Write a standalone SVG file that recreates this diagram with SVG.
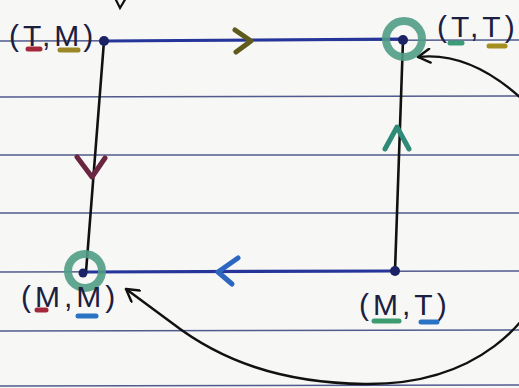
<svg xmlns="http://www.w3.org/2000/svg" width="519" height="388" viewBox="0 0 519 388">
  <style>
    .rule { stroke: #34407a; stroke-width: 1.6; opacity: 0.85; fill: none; }
    .edge { stroke: #26359a; stroke-width: 3.2; fill: none; stroke-linecap: round; }
    .side { stroke: #111; stroke-width: 2.6; fill: none; stroke-linecap: round; }
    .curve { stroke: #111; stroke-width: 2.4; fill: none; stroke-linecap: round; }
    .tick { fill: none; stroke-width: 5; stroke-linecap: round; stroke-linejoin: round; }
    .ring { fill: none; stroke: #4f9c86; stroke-width: 8; opacity: 0.9; }
    .dot { fill: #1b2266; }
    .lbl { font-family: "Liberation Sans", Arial, sans-serif; font-size: 30px; fill: #1c2040; letter-spacing: 4px; }
    .ul { stroke-width: 5; stroke-linecap: round; fill: none; }
  </style>
  <defs>
    <marker id="open" markerWidth="16" markerHeight="16" refX="14" refY="8" orient="auto" markerUnits="userSpaceOnUse">
      <path d="M2 1 L14 8 L2 15" fill="none" stroke="#111" stroke-width="2.4" stroke-linecap="round" stroke-linejoin="round"/>
    </marker>
  </defs>

  <!-- paper -->
  <rect width="519" height="388" fill="#f7f7f5"/>
  <g id="rules">
    <line class="rule" x1="0" y1="41" x2="519" y2="40"/>
    <line class="rule" x1="0" y1="97" x2="519" y2="96"/>
    <line class="rule" x1="0" y1="155" x2="519" y2="155"/>
    <line class="rule" x1="0" y1="213" x2="519" y2="213"/>
    <line class="rule" x1="0" y1="272" x2="519" y2="271"/>
    <line class="rule" x1="0" y1="331" x2="519" y2="330"/>
    <line class="rule" x1="0" y1="386" x2="519" y2="385"/>
  </g>

  <g id="connectors">
    <!-- square edges -->
    <line class="edge" x1="104" y1="41" x2="402" y2="39"/>
    <line class="edge" x1="86" y1="272" x2="395" y2="271"/>
    <line class="side" x1="104" y1="41" x2="86" y2="272"/>
    <line class="side" x1="395" y1="271" x2="403" y2="40"/>
    <!-- direction ticks -->
    <path class="tick" stroke="#5e5a1c" d="M235 30 L251 41 L236 52"/>
    <path class="tick" stroke="#6a2540" d="M77 157 L92 177 L105 158"/>
    <path class="tick" stroke="#2f8a78" d="M385 149 L397 127 L409 149"/>
    <path class="tick" stroke="#2d66c0" d="M238 258 L218 272 L232 284"/>
    <!-- long return curves, leaving the page on the right -->
    <path class="curve" marker-end="url(#open)" d="M560 240 C 540 330, 470 385, 365 384 C 280 383, 220 360, 172 323 L 126 289"/>
    <path class="curve" marker-end="url(#open)" d="M600 200 C 540 100, 480 50, 418 57"/>
    <!-- stray mark at the top edge -->
    <path d="M115 -2 L120 8 L126 -2" fill="none" stroke="#111" stroke-width="2.2"/>
  </g>

  <g id="node-TM">
    <circle class="dot" cx="104" cy="41" r="5"/>
    <text class="lbl" x="9" y="46">(T,M)</text>
    <line class="ul" stroke="#a4283c" x1="28" y1="49" x2="40" y2="49"/>
    <line class="ul" stroke="#9c8626" x1="60" y1="50" x2="78" y2="50"/>
  </g>

  <g id="node-TT">
    <circle class="ring" cx="404" cy="39" r="18"/>
    <circle class="dot" cx="403" cy="40" r="5"/>
    <text class="lbl" x="437" y="37">(T,T)</text>
    <line class="ul" stroke="#3c9c78" x1="450" y1="43" x2="462" y2="43"/>
    <line class="ul" stroke="#a49020" x1="489" y1="46" x2="505" y2="46"/>
  </g>

  <g id="node-MM">
    <circle class="ring" cx="85" cy="271" r="17"/>
    <circle class="dot" cx="83" cy="273" r="4.5"/>
    <text class="lbl" x="21" y="307">(M,M)</text>
    <line class="ul" stroke="#a4283c" x1="37" y1="310" x2="46" y2="310"/>
    <line class="ul" stroke="#2a72c4" x1="78" y1="316" x2="96" y2="316"/>
  </g>

  <g id="node-MT">
    <circle class="dot" cx="395" cy="271" r="5"/>
    <text class="lbl" x="359" y="315">(M,T)</text>
    <line class="ul" stroke="#3c9c70" x1="374" y1="321" x2="399" y2="321"/>
    <line class="ul" stroke="#2a72c4" x1="421" y1="322" x2="437" y2="322"/>
  </g>
</svg>
